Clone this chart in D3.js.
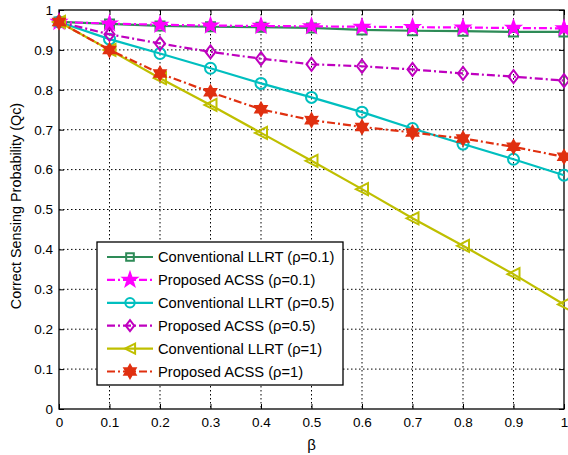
<!DOCTYPE html>
<html>
<head>
<meta charset="utf-8">
<script src="https://cdn.jsdelivr.net/npm/d3@7"></script>
<style>
  body { margin: 0; background: #fff; }
  svg { font-family: "Liberation Sans", Arial, sans-serif; }
</style>
</head>
<body>
<svg id="chart" width="568" height="455"></svg>
<script>
// data
const betas = [0, 0.1, 0.2, 0.3, 0.4, 0.5, 0.6, 0.7, 0.8, 0.9, 1];
const llrt01 = [0.970, 0.965, 0.960, 0.958, 0.957, 0.955, 0.950, 0.948, 0.947, 0.945, 0.945];
const acss01 = [0.970, 0.966, 0.963, 0.961, 0.960, 0.959, 0.958, 0.957, 0.956, 0.955, 0.954];
const llrt05 = [0.970, 0.927, 0.891, 0.854, 0.816, 0.781, 0.744, 0.703, 0.664, 0.626, 0.586];
const acss05 = [0.970, 0.939, 0.916, 0.895, 0.878, 0.864, 0.859, 0.851, 0.841, 0.833, 0.823];
const llrt1 = [0.970, 0.900, 0.829, 0.762, 0.692, 0.622, 0.551, 0.478, 0.409, 0.338, 0.262];
const acss1 = [0.970, 0.900, 0.841, 0.794, 0.751, 0.724, 0.707, 0.693, 0.678, 0.657, 0.632];
const xTicks = [0, 0.1, 0.2, 0.3, 0.4, 0.5, 0.6, 0.7, 0.8, 0.9, 1];
const yTicks = [0, 0.1, 0.2, 0.3, 0.4, 0.5, 0.6, 0.7, 0.8, 0.9, 1];

const series = [
  { name: "Conventional LLRT (\u03c1=0.1)", values: llrt01, color: "#2e8b57", dash: null, marker: "square", fill: false },
  { name: "Proposed ACSS (\u03c1=0.1)", values: acss01, color: "#ff00ff", dash: "8,3,2,3", marker: "star", fill: true },
  { name: "Conventional LLRT (\u03c1=0.5)", values: llrt05, color: "#00bfbf", dash: null, marker: "circle", fill: false },
  { name: "Proposed ACSS (\u03c1=0.5)", values: acss05, color: "#bf00bf", dash: "8,3,2,3", marker: "diamond", fill: false },
  { name: "Conventional LLRT (\u03c1=1)", values: llrt1, color: "#bfbf00", dash: null, marker: "triangle", fill: false },
  { name: "Proposed ACSS (\u03c1=1)", values: acss1, color: "#e03010", dash: "8,3,2,3", marker: "hexagram", fill: true }
];

const svg = d3.select("#chart");
const pLeft = 59, pRight = 564, pTop = 10, pBottom = 409;

const x = d3.scaleLinear().domain([0, 1]).range([pLeft, pRight]);
const y = d3.scaleLinear().domain([0, 1]).range([pBottom, pTop]);

// marker shapes, centred on 0,0
function markerPath(type, s) {
  if (type === "square") return `M${-s},${-s}H${s}V${s}H${-s}Z`;
  if (type === "circle") return d3.symbol(d3.symbolCircle, Math.PI * s * s)();
  if (type === "diamond") return `M0,${-s * 1.3}L${s},0L0,${s * 1.3}L${-s},0Z`;
  if (type === "triangle") return `M${-s},0L${s},${-s}L${s},${s}Z`;
  let pts = [];
  if (type === "star") {
    for (let i = 0; i < 10; i++) {
      let r = i % 2 === 0 ? s * 1.5 : s * 0.6;
      let a = -Math.PI / 2 + i * Math.PI / 5;
      pts.push([r * Math.cos(a), r * Math.sin(a)]);
    }
  } else {
    for (let i = 0; i < 12; i++) {
      let r = i % 2 === 0 ? s * 1.3 : s * 0.75;
      let a = -Math.PI / 2 + i * Math.PI / 6;
      pts.push([r * Math.cos(a), r * Math.sin(a)]);
    }
  }
  return "M" + pts.map(p => p.join(",")).join("L") + "Z";
}
const markerSize = { square: 4.5, circle: 5.5, diamond: 5, triangle: 6, star: 4.7, hexagram: 5 };

// grid
svg.append("g").selectAll("line").data(xTicks.slice(1, -1)).join("line")
  .attr("x1", d => x(d)).attr("x2", d => x(d)).attr("y1", pTop).attr("y2", pBottom)
  .attr("stroke", "#000").attr("stroke-width", 1).attr("stroke-dasharray", "1.5,2.5");
svg.append("g").selectAll("line").data(yTicks.slice(1, -1)).join("line")
  .attr("y1", d => y(d)).attr("y2", d => y(d)).attr("x1", pLeft).attr("x2", pRight)
  .attr("stroke", "#000").attr("stroke-width", 1).attr("stroke-dasharray", "1.5,2.5");

// axes with inward ticks
const xAxis = svg.append("g").attr("transform", `translate(0,${pBottom})`)
  .call(d3.axisBottom(x).tickValues(xTicks).tickSize(-5).tickPadding(8).tickFormat(d3.format("~g")));
const xAxisTop = svg.append("g").attr("transform", `translate(0,${pTop})`)
  .call(d3.axisTop(x).tickValues(xTicks).tickSize(-5).tickFormat(""));
const yAxis = svg.append("g").attr("transform", `translate(${pLeft},0)`)
  .call(d3.axisLeft(y).tickValues(yTicks).tickSize(-5).tickPadding(6).tickFormat(d3.format("~g")));
const yAxisRight = svg.append("g").attr("transform", `translate(${pRight},0)`)
  .call(d3.axisRight(y).tickValues(yTicks).tickSize(-5).tickFormat(""));
[xAxis, xAxisTop, yAxis, yAxisRight].forEach(g => {
  g.select(".domain").remove();
  g.selectAll("line").attr("stroke", "#000");
  g.selectAll("text").attr("fill", "#000").style("font-size", "13.5px").style("font-family", "Liberation Sans, Arial, sans-serif");
});

svg.append("rect").attr("x", pLeft).attr("y", pTop).attr("width", pRight - pLeft).attr("height", pBottom - pTop)
  .attr("fill", "none").attr("stroke", "#000").attr("stroke-width", 1.3);

// series
const line = d3.line().x((d, i) => x(betas[i])).y(d => y(d));
series.forEach(s => {
  svg.append("path").datum(s.values)
    .attr("fill", "none").attr("stroke", s.color).attr("stroke-width", 2.2)
    .attr("stroke-dasharray", s.dash)
    .attr("d", line);
  svg.append("g").selectAll("path").data(s.values).join("path")
    .attr("transform", (d, i) => `translate(${x(betas[i])},${y(d)})`)
    .attr("d", markerPath(s.marker, markerSize[s.marker]))
    .attr("fill", s.fill ? s.color : "none")
    .attr("stroke", s.color).attr("stroke-width", 2);
});

// legend
const lg = svg.append("g").attr("transform", "translate(97,242)");
lg.append("rect").attr("width", 246).attr("height", 143)
  .attr("fill", "#fff").attr("stroke", "#000").attr("stroke-width", 1.3);
series.forEach((s, i) => {
  const yy = 15 + i * 22.9;
  lg.append("line").attr("x1", 10).attr("x2", 56).attr("y1", yy).attr("y2", yy)
    .attr("stroke", s.color).attr("stroke-width", 2.2).attr("stroke-dasharray", s.dash);
  lg.append("path").attr("transform", `translate(33,${yy})`)
    .attr("d", markerPath(s.marker, markerSize[s.marker] * (s.fill ? 1 : 0.85)))
    .attr("fill", s.fill ? s.color : "none")
    .attr("stroke", s.color).attr("stroke-width", 2);
  lg.append("text").attr("x", 61).attr("y", yy).attr("dy", "0.35em")
    .style("font-size", "14.7px").text(s.name);
});

// axis labels
svg.append("text").attr("x", (pLeft + pRight) / 2).attr("y", 450).attr("text-anchor", "middle")
  .style("font-size", "15px").text("\u03b2");
svg.append("text").attr("transform", `translate(21,206) rotate(-90)`)
  .attr("text-anchor", "middle").style("font-size", "14.4px").text("Correct Sensing Probability (Qc)");
</script>
</body>
</html>
